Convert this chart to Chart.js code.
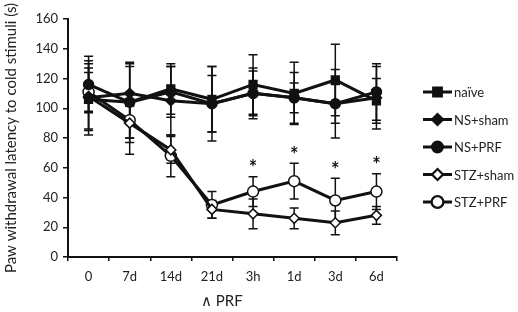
<!DOCTYPE html>
<html>
<head>
<meta charset="utf-8">
<script src="https://cdn.jsdelivr.net/npm/chart.js@4"></script>
<style>
  html, body { margin: 0; padding: 0; background: #fff; }
  #wrap { width: 518px; height: 312px; }
</style>
</head>
<body>
<div id="wrap"><canvas id="chart" width="518" height="312"></canvas></div>
<script>
// Time points
const timePoints = ['0', '7d', '14d', '21d', '3h', '1d', '3d', '6d'];

// Mean latency (s) per group
const naive    = [106, 104, 113, 106, 116, 110, 119, 105];
const nsSham   = [107, 110, 105, 103, 110, 107, 103, 107];
const nsPrf    = [116, 104, 111, 103, 110, 107, 103, 111];
const stzSham  = [108,  90,  72,  32,  29,  26,  23,  28];
const stzPrf   = [111,  92,  68,  35,  44,  51,  38,  44];

// Error bar half-widths (s)
const naiveErr   = [21, 27, 17, 22, 20, 21, 24, 15];
const nsShamErr  = [25, 20, 23, 19, 15, 17, 23, 21];
const nsPrfErr   = [19, 24, 17, 25, 17, 10, 13, 19];
const stzShamErr = [22, 21,  9,  6, 10,  7,  8,  6];
const stzPrfErr  = [13, 12, 14,  9, 10, 12, 15, 12];

// Significance marks for STZ+PRF
const stzPrfStars = [false, false, false, false, true, true, true, true];

const yTicks = [0, 20, 40, 60, 80, 100, 120, 140, 160];

const FONT = 'Lato, "Open Sans", sans-serif';

// Draws vertical error bars behind the markers
const errorBarPlugin = {
    id: 'errorBars',
    beforeDatasetsDraw(chart) {
        const ctx = chart.ctx;
        const y = chart.scales.y;
        ctx.save();
        ctx.strokeStyle = '#111';
        ctx.lineWidth = 1.5;
        chart.data.datasets.forEach((ds, i) => {
            const meta = chart.getDatasetMeta(i);
            meta.data.forEach((pt, j) => {
                const v = ds.data[j];
                const e = ds.errors[j];
                const top = y.getPixelForValue(v + e);
                const bot = y.getPixelForValue(v - e);
                const x = pt.x;
                ctx.beginPath();
                ctx.moveTo(x, top); ctx.lineTo(x, bot);
                ctx.moveTo(x - 4.5, top); ctx.lineTo(x + 4.5, top);
                ctx.moveTo(x - 4.5, bot); ctx.lineTo(x + 4.5, bot);
                ctx.stroke();
            });
        });
        ctx.restore();
    },
    afterDatasetsDraw(chart) {
        // asterisks over STZ+PRF
        const ctx = chart.ctx;
        const y = chart.scales.y;
        const idx = chart.data.datasets.findIndex(d => d.label === 'STZ+PRF');
        const ds = chart.data.datasets[idx];
        const meta = chart.getDatasetMeta(idx);
        ctx.save();
        ctx.fillStyle = '#111';
        ctx.font = 'bold 20px ' + FONT;
        ctx.textAlign = 'center';
        ctx.textBaseline = 'middle';
        stzPrfStars.forEach((s, j) => {
            if (!s) return;
            const top = y.getPixelForValue(ds.data[j] + ds.errors[j]);
            ctx.fillText('*', meta.data[j].x, top - 8);
        });
        ctx.restore();
    }
};

// Legend on the right, line + marker + text
const sideLegendPlugin = {
    id: 'sideLegend',
    afterDraw(chart) {
        const ctx = chart.ctx;
        ctx.save();
        const x0 = 423, x1 = 452;
        chart.data.datasets.forEach((ds, i) => {
            const cy = 92 + i * 27.5;
            ctx.strokeStyle = '#111';
            ctx.lineWidth = 3;
            ctx.beginPath();
            ctx.moveTo(x0, cy); ctx.lineTo(x1, cy);
            ctx.stroke();
            Chart.helpers.drawPoint(ctx, {
                pointStyle: ds.pointStyle,
                radius: ds.pointRadius,
                borderWidth: 1.5
            }, (x0 + x1) / 2, cy);
            ctx.fillStyle = ds.pointBackgroundColor;
            ctx.strokeStyle = '#111';
            ctx.lineWidth = 1.5;
            ctx.fill();
            ctx.stroke();
            ctx.fillStyle = '#222';
            ctx.font = '13px ' + FONT;
            ctx.textAlign = 'left';
            ctx.textBaseline = 'middle';
            ctx.fillText(ds.label, x1 + 2, cy + 1);
        });
        // PRF marker under the axis
        const xs = chart.scales.x;
        ctx.fillStyle = '#222';
        ctx.font = '15px ' + FONT;
        ctx.textAlign = 'left';
        ctx.textBaseline = 'middle';
        ctx.fillText('\u2227 PRF', xs.getPixelForValue(3) - 11, 301);
        ctx.restore();
    }
};

function series(label, data, errors, style, fill, radius) {
    return {
        label: label,
        data: data,
        errors: errors,
        borderColor: '#111',
        borderWidth: 3,
        pointStyle: style,
        pointRadius: radius,
        pointHoverRadius: radius,
        pointBackgroundColor: fill,
        pointBorderColor: '#111',
        pointBorderWidth: 1.5,
        tension: 0,
        fill: false
    };
}

new Chart('chart', {
    type: 'line',
    data: {
        labels: timePoints,
        datasets: [
            series('naïve', naive, naiveErr, 'rect', '#111', 5.5),
            series('NS+sham', nsSham, nsShamErr, 'rectRot', '#111', 5),
            series('NS+PRF', nsPrf, nsPrfErr, 'circle', '#111', 5),
            series('STZ+sham', stzSham, stzShamErr, 'rectRot', '#fff', 5),
            series('STZ+PRF', stzPrf, stzPrfErr, 'circle', '#fff', 5.5)
        ]
    },
    options: {
        responsive: false,
        animation: false,
        layout: { padding: { top: 19, right: 121, bottom: 0, left: 0 } },
        plugins: {
            legend: { display: false },
            tooltip: { enabled: false }
        },
        scales: {
            x: {
                offset: true,
                grid: {
                    offset: true,
                    drawOnChartArea: false,
                    drawTicks: true,
                    tickLength: 4,
                    color: '#111',
                    lineWidth: 1.5
                },
                border: { color: '#111', width: 2 },
                ticks: { color: '#222', font: { family: FONT, size: 13 }, padding: 8 },
                afterFit(scale) { scale.height = 55; }
            },
            y: {
                min: 0,
                max: 160,
                afterBuildTicks(scale) { scale.ticks = yTicks.map(v => ({ value: v })); },
                grid: {
                    drawOnChartArea: false,
                    tickLength: 5,
                    color: '#111',
                    lineWidth: 1.5
                },
                border: { color: '#111', width: 2 },
                ticks: { color: '#222', font: { family: FONT, size: 13 }, padding: 5 },
                title: {
                    display: true,
                    text: 'Paw withdrawal latency to cold stimuli (s)',
                    color: '#222',
                    font: { family: FONT, size: 15 },
                    padding: { top: 2, bottom: 0 }
                },
                afterFit(scale) { scale.width = 68; }
            }
        }
    },
    plugins: [errorBarPlugin, sideLegendPlugin]
});
</script>
</body>
</html>
